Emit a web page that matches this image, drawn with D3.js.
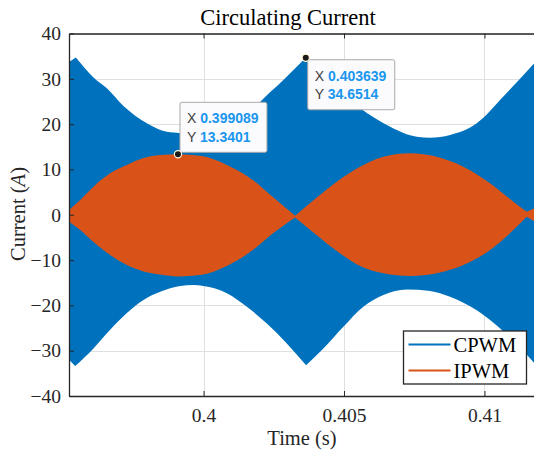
<!DOCTYPE html>
<html>
<head>
<meta charset="utf-8">
<script src="https://cdn.jsdelivr.net/npm/d3@7"></script>
<style>
  body { margin: 0; background: #fff; }
  svg { display: block; }
</style>
</head>
<body>
<div id="chart"></div>
<script>
// CPWM envelope, upper edge
const cpwmUpTime = [0.39521, 0.395455, 0.396082, 0.396559, 0.397149, 0.397982, 0.398694, 0.399167,
    0.399879, 0.400591, 0.401302, 0.402014, 0.402833, 0.403639, 0.404509, 0.405577, 0.406644,
    0.407591, 0.408064, 0.408776, 0.409726, 0.410673, 0.4118];
const cpwmUp = [33.7, 34.7, 30.3, 27.9, 24.0, 20.2, 18.3, 18.0,
    16.9, 17.8, 19.8, 24.9, 29.7, 34.65, 28.6, 23.5, 19.4,
    17.2, 17.0, 17.6, 20.2, 26.1, 33.6];
// CPWM envelope, lower edge
const cpwmLowTime = [0.39521, 0.395431, 0.396082, 0.396676, 0.39727, 0.397861, 0.398456, 0.399167,
    0.399641, 0.399996, 0.400829, 0.401541, 0.402253, 0.402964, 0.403651, 0.404267, 0.404979,
    0.40569, 0.406402, 0.407235, 0.408064, 0.408776, 0.409726, 0.410448, 0.41116, 0.4118];
const cpwmLow = [-32.0, -33.4, -29.5, -25.4, -21.7, -18.8, -17.0, -15.7,
    -15.5, -15.7, -17.3, -20.3, -24.0, -28.4, -33.2, -29.5, -24.7,
    -20.3, -17.7, -16.5, -16.8, -18.1, -21.1, -24.5, -28.6, -32.9];
// IPWM envelope
const ipwmTime = [0.39521, 0.395609, 0.396082, 0.396676, 0.39727, 0.397861, 0.398456, 0.399089,
    0.399879, 0.400829, 0.401836, 0.40237, 0.40326, 0.404032, 0.404744, 0.405573, 0.406402,
    0.407352, 0.408302, 0.409249, 0.410199, 0.411028, 0.411505, 0.4118];
const ipwmUp = [1.05, 3.26, 6.2, 9.14, 10.98, 12.5, 13.2, 13.34,
    13.0, 11.0, 7.3, 4.4, -0.2, 3.8, 7.3, 10.6, 12.8,
    13.56, 12.8, 10.6, 6.94, 2.88, 0.67, 1.49];
const ipwmLow = [-1.53, -3.37, -6.0, -8.89, -11.1, -12.5, -13.2, -13.6,
    -13.3, -11.3, -7.4, -4.6, -0.6, -4.5, -8.0, -11.3, -12.9,
    -13.5, -12.9, -11.1, -7.78, -3.37, -0.43, -1.53];

const seriesNames = ['CPWM', 'IPWM'];
const seriesColors = ['#0072BD', '#D95319'];
const yTicks = [-40, -30, -20, -10, 0, 10, 20, 30, 40];
const xTicks = [0.4, 0.405, 0.41];
const xTickLabels = ['0.4', '0.405', '0.41'];
const tipX = [0.399089, 0.403639];
const tipY = [13.3401, 34.6514];

const W = 534, H = 452;
const m = {left: 69, right: 535, top: 33.5, bottom: 396};

const svg = d3.select('#chart').append('svg')
    .attr('width', W).attr('height', H);

const x = d3.scaleLinear().domain([0.39521, 0.4118]).range([m.left, m.right]);
const y = d3.scaleLinear().domain([-40, 40]).range([m.bottom, m.top]);

const serif = '"Liberation Serif", "Times New Roman", serif';
const sans = '"Liberation Sans", Arial, sans-serif';

svg.append('defs').append('clipPath').attr('id', 'clip')
  .append('rect')
    .attr('x', m.left).attr('y', m.top)
    .attr('width', m.right - m.left).attr('height', m.bottom - m.top);

// grid
const grid = svg.append('g').attr('stroke', '#dfdfdf').attr('stroke-width', 1);
grid.selectAll('.gy').data(yTicks).enter().append('line')
    .attr('x1', m.left).attr('x2', m.right)
    .attr('y1', d => Math.round(y(d)) + 0.5).attr('y2', d => Math.round(y(d)) + 0.5);
grid.selectAll('.gx').data(xTicks).enter().append('line')
    .attr('y1', m.top).attr('y2', m.bottom)
    .attr('x1', d => Math.round(x(d)) + 0.5).attr('x2', d => Math.round(x(d)) + 0.5);

// split an envelope into pieces at its sharp corners (cusps), so the smooth
// curve keeps the corners pointed
function pieces(ts, vs, isCusp) {
    const out = [];
    let cur = [];
    ts.forEach((t, i) => {
        cur.push([t, vs[i]]);
        if (i > 0 && i < ts.length - 1 && isCusp(vs[i - 1], vs[i], vs[i + 1])) {
            out.push(cur);
            cur = [[t, vs[i]]];
        }
    });
    out.push(cur);
    return out;
}
const peak = (a, b, c) => b > a && b > c;
const dip = (a, b, c) => b < a && b < c;

const plot = svg.append('g').attr('clip-path', 'url(#clip)');

// CPWM band: upper edge filled down past the middle, lower edge up past the middle,
// all in one path (same winding) so the joins leave no seams
const upperHalf = d3.area()
    .x(d => x(d[0])).y0(y(-10)).y1(d => y(d[1]))
    .curve(d3.curveMonotoneX);
const lowerHalf = d3.area()
    .x(d => x(d[0])).y0(d => y(d[1])).y1(y(10))
    .curve(d3.curveMonotoneX);
const blueD = pieces(cpwmUpTime, cpwmUp, peak).map(s => upperHalf(s)).join('') +
    pieces(cpwmLowTime, cpwmLow, dip).map(s => lowerHalf(s)).join('');
plot.append('path').attr('d', blueD).attr('fill', seriesColors[0]);

// IPWM band: between its two edges
const upSegs = pieces(ipwmTime, ipwmUp, dip);
const lowSegs = pieces(ipwmTime, ipwmLow, peak);
const redArea = d3.area()
    .x(d => x(d[0])).y0(d => y(d[2])).y1(d => y(d[1]))
    .curve(d3.curveMonotoneX);
const redD = upSegs.map((s, k) => {
    const lo = lowSegs[k];
    return redArea(s.map((p, i) => [p[0], p[1], lo[i][1]]));
}).join('');
plot.append('path').attr('d', redD).attr('fill', seriesColors[1]);

// axes
const axisColor = '#262626';
const yAxis = svg.append('g')
    .attr('transform', 'translate(' + m.left + ',0)')
    .call(d3.axisLeft(y).tickValues(yTicks).tickSizeInner(-5).tickSizeOuter(0).tickPadding(8));
const xAxis = svg.append('g')
    .attr('transform', 'translate(0,' + m.bottom + ')')
    .call(d3.axisBottom(x).tickValues(xTicks).tickFormat((d, i) => xTickLabels[i])
        .tickSizeInner(-5).tickSizeOuter(0).tickPadding(12));
const topAxis = svg.append('g')
    .attr('transform', 'translate(0,' + m.top + ')')
    .call(d3.axisTop(x).tickValues(xTicks).tickFormat('').tickSizeInner(-5).tickSizeOuter(0));
[yAxis, xAxis, topAxis].forEach(a => {
    a.select('.domain').attr('stroke', axisColor).attr('stroke-width', 1.3);
    a.selectAll('.tick line').attr('stroke', axisColor).attr('stroke-width', 1);
    a.selectAll('text').attr('fill', axisColor)
        .style('font-family', serif).style('font-size', '19.5px');
});

// labels
svg.append('text')
    .attr('x', 288).attr('y', 25)
    .attr('text-anchor', 'middle')
    .attr('fill', '#000')
    .style('font-family', serif).style('font-size', '22.5px')
    .text('Circulating Current');
svg.append('text')
    .attr('x', 302).attr('y', 445)
    .attr('text-anchor', 'middle')
    .attr('fill', axisColor)
    .style('font-family', serif).style('font-size', '20.5px')
    .text('Time (s)');
const yl = svg.append('text')
    .attr('transform', 'translate(25,214) rotate(-90)')
    .attr('text-anchor', 'middle')
    .attr('fill', axisColor)
    .style('font-family', serif).style('font-size', '20.5px');
yl.append('tspan').text('Current (');
yl.append('tspan').attr('font-style', 'italic').text('A');
yl.append('tspan').text(')');

// legend
const lg = svg.append('g').attr('transform', 'translate(403.5,331)');
lg.append('rect')
    .attr('width', 123).attr('height', 53)
    .attr('fill', '#fff').attr('stroke', axisColor).attr('stroke-width', 1.3);
seriesNames.forEach((name, i) => {
    const row = lg.append('g').attr('transform', 'translate(0,' + (13.5 + i * 26) + ')');
    row.append('line')
        .attr('x1', 5).attr('x2', 47)
        .attr('stroke', seriesColors[i]).attr('stroke-width', 2);
    row.append('text')
        .attr('x', 50).attr('dy', '0.35em')
        .attr('fill', '#000')
        .style('font-family', serif).style('font-size', '20.5px')
        .text(name);
});

// data tips
const tipBox = [{dx: 2, dy: -52}, {dx: 2, dy: 2}];
tipX.forEach((tx, i) => {
    const px = x(tx), py = y(tipY[i]);
    const g = svg.append('g')
        .attr('transform', 'translate(' + (px + tipBox[i].dx) + ',' + (py + tipBox[i].dy) + ')');
    g.append('rect')
        .attr('width', 87).attr('height', 50).attr('rx', 2)
        .attr('fill', '#fbfbfd').attr('stroke', '#a8a8a8').attr('stroke-width', 1);
    const rows = [['X', d3.format('.6f')(tx)], ['Y', String(tipY[i])]];
    rows.forEach((r, j) => {
        const t = g.append('text')
            .attr('x', 7).attr('y', 21 + j * 18.5)
            .style('font-family', sans).style('font-size', '14px');
        t.append('tspan').attr('fill', '#404040').text(r[0] + ' ');
        t.append('tspan').attr('fill', '#1a96ee').attr('font-weight', 'bold').text(r[1]);
    });
    svg.append('circle')
        .attr('cx', px).attr('cy', py).attr('r', 3.6)
        .attr('fill', '#1a1a1a').attr('stroke', '#fff8d8').attr('stroke-width', 1.2);
});
</script>
</body>
</html>
